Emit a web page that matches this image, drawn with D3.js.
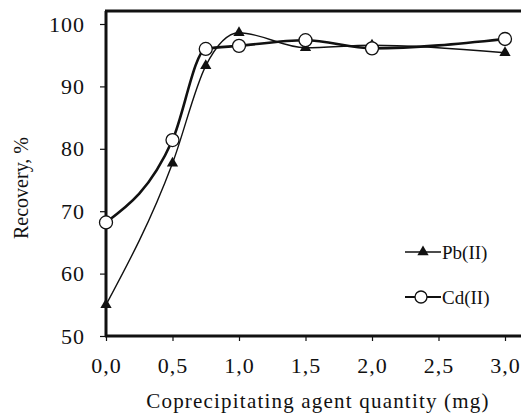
<!DOCTYPE html>
<html>
<head>
<meta charset="utf-8">
<script src="https://cdn.jsdelivr.net/npm/d3@7"></script>
<style>
  body { margin: 0; background: #fff; }
</style>
</head>
<body>
<svg width="521" height="414"></svg>
<script>
// data
var quantity = [0, 0.5, 0.75, 1.0, 1.5, 2.0, 3.0];
var pbRecovery = [55.0, 77.7, 93.3, 98.6, 96.2, 96.6, 95.4];
var cdRecovery = [68.2, 81.4, 96.0, 96.5, 97.4, 96.1, 97.6];
var xTicks = [0, 0.5, 1.0, 1.5, 2.0, 2.5, 3.0];
var yTicks = [50, 60, 70, 80, 90, 100];
var seriesNames = ["Pb(II)", "Cd(II)"];

var serif = "'Liberation Serif', 'Times New Roman', serif";

var svg = d3.select("svg")
    .attr("font-family", serif),
    margin = {top: 24, right: 16, bottom: 78, left: 106},
    width = +svg.attr("width") - margin.left - margin.right,
    height = +svg.attr("height") - margin.top - margin.bottom;

var x = d3.scaleLinear().domain([0, 3]).range([0, 399]),
    y = d3.scaleLinear().domain([50, 100]).range([height, 0]);

var fmt = function(d) { return d3.format(".1f")(d).replace(".", ","); };

var g = svg.append("g")
    .attr("transform", "translate(" + margin.left + "," + margin.top + ")");

// top frame line, runs off the right edge like the scan
g.append("line")
    .attr("x1", -1).attr("x2", 521 - margin.left)
    .attr("y1", y(102.1)).attr("y2", y(102.1))
    .attr("stroke", "#111").attr("stroke-width", 3);

var xAxis = d3.axisBottom(x).tickValues(xTicks).tickFormat(fmt).tickSize(5).tickSizeOuter(0),
    yAxis = d3.axisLeft(y).tickValues(yTicks).tickSize(6).tickSizeOuter(0);

var gx = g.append("g")
    .attr("class", "axis axis--x")
    .attr("transform", "translate(0," + height + ")")
    .call(xAxis)
    .attr("font-family", serif);
gx.select(".domain").attr("d", "M-1,0H" + (521 - margin.left)).attr("stroke-width", 3);
gx.selectAll(".tick line").attr("stroke-width", 1.2);
gx.selectAll("text").attr("dy", "1.3em").attr("fill", "#111")
    .style("font-size", "22px").style("letter-spacing", "1px");

var gy = g.append("g")
    .attr("class", "axis axis--y")
    .call(yAxis)
    .attr("font-family", serif);
gy.select(".domain").attr("d", "M0," + height + "V" + y(102.1)).attr("stroke-width", 3);
gy.selectAll(".tick line").attr("stroke-width", 1.2);
gy.selectAll("text").attr("x", -21).attr("fill", "#111")
    .style("font-size", "22px").style("letter-spacing", "1px");

svg.selectAll(".axis .domain, .axis line").attr("stroke", "#111");

// axis titles
svg.append("text")
    .attr("transform", "translate(21," + 188 + ") rotate(-90)")
    .attr("text-anchor", "middle")
    .attr("dy", "0.35em")
    .attr("fill", "#111")
    .style("font-size", "20px")
    .text("Recovery, %");

svg.append("text")
    .attr("x", 318).attr("y", 408)
    .attr("text-anchor", "middle")
    .attr("fill", "#111")
    .style("font-size", "21px")
    .style("letter-spacing", "1.2px")
    .text("Coprecipitating agent quantity (mg)");

var line = d3.line()
    .curve(d3.curveMonotoneX)
    .x(function(d) { return x(d[0]); })
    .y(function(d) { return y(d[1]); });

var pb = quantity.map(function(q, i) { return [q, pbRecovery[i]]; }),
    cd = quantity.map(function(q, i) { return [q, cdRecovery[i]]; });

g.append("path").datum(cd)
    .attr("d", line).attr("fill", "none")
    .attr("stroke", "#111").attr("stroke-width", 2.6);

g.append("path").datum(pb)
    .attr("d", line).attr("fill", "none")
    .attr("stroke", "#111").attr("stroke-width", 1.4);

var tri = d3.symbol().type(d3.symbolTriangle).size(55);

g.selectAll(".pb").data(pb).enter().append("path")
    .attr("class", "pb")
    .attr("transform", function(d) { return "translate(" + x(d[0]) + "," + y(d[1]) + ")"; })
    .attr("d", tri)
    .attr("fill", "#111");

g.selectAll(".cd").data(cd).enter().append("circle")
    .attr("class", "cd")
    .attr("cx", function(d) { return x(d[0]); })
    .attr("cy", function(d) { return y(d[1]); })
    .attr("r", 6.5)
    .attr("fill", "#fff").attr("stroke", "#111").attr("stroke-width", 1.3);

// legend
var legend = svg.append("g").attr("transform", "translate(405,252)");
seriesNames.forEach(function(name, i) {
    var row = legend.append("g").attr("transform", "translate(0," + (i * 45) + ")");
    row.append("line")
        .attr("x1", 0).attr("x2", 36)
        .attr("stroke", "#111").attr("stroke-width", i ? 2 : 1.4);
    if (i === 0) {
        row.append("path").attr("transform", "translate(18,0)").attr("d", tri).attr("fill", "#111");
    } else {
        row.append("circle").attr("cx", 16).attr("r", 6).attr("fill", "#fff")
            .attr("stroke", "#111").attr("stroke-width", 1.3);
    }
    row.append("text")
        .attr("x", 37).attr("dy", "0.35em")
        .attr("fill", "#111")
        .style("font-size", "19px")
        .text(name);
});
</script>
</body>
</html>
